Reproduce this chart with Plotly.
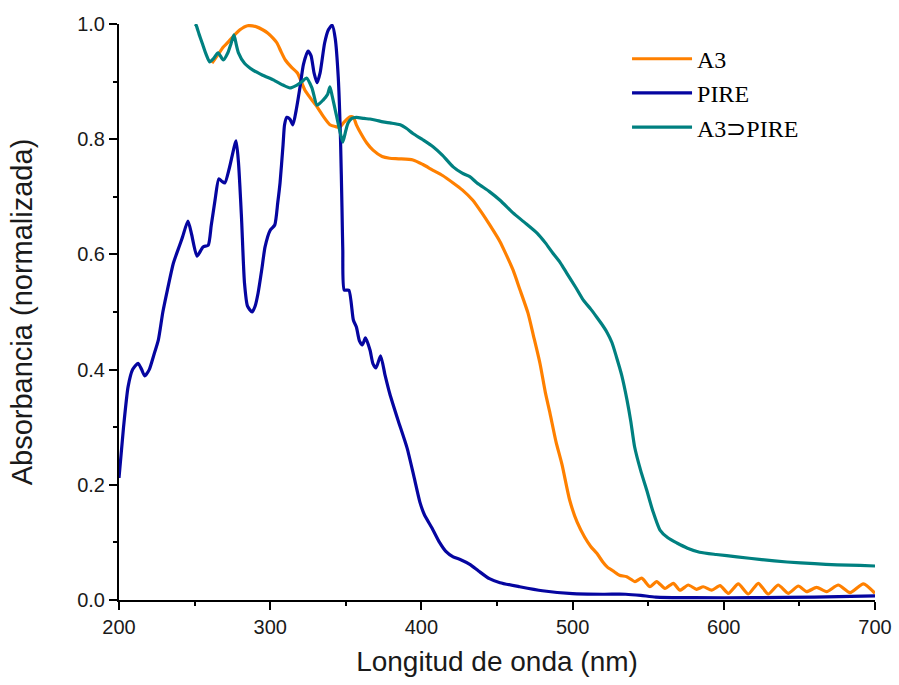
import plotly.graph_objects as go

# --- PIRE ---
pire_nm = [200, 203, 206, 209, 212.6, 215, 217, 220, 223, 226, 229, 232, 236, 240, 242,
           245.6, 248, 251.6, 255.6, 259, 261, 263.5, 266, 268, 270, 273, 277.4, 279, 281,
           283, 285, 288, 290, 292, 294.5, 296.6, 300, 303, 305, 306.5, 308.5, 309.5, 311,
           313, 315, 317.5, 319.7, 322, 325, 327, 329, 331, 333, 336, 338.5, 341, 343, 345,
           346.5, 347.5, 348, 349, 352, 355, 357, 359, 361, 363, 366, 368, 370, 373, 376,
           379, 384.5, 390.5, 395, 399, 402, 407, 412, 416, 421, 426, 432, 438, 445, 452,
           465, 480, 500, 520, 535, 545, 555, 580, 620, 660, 700]
pire_abs = [0.212, 0.30, 0.37, 0.40, 0.411, 0.40, 0.389, 0.40, 0.425, 0.451, 0.50, 0.538,
            0.585, 0.615, 0.630, 0.658, 0.635, 0.597, 0.613, 0.616, 0.65, 0.694, 0.731,
            0.727, 0.724, 0.75, 0.797, 0.76, 0.665, 0.55, 0.51, 0.50, 0.51, 0.533, 0.575,
            0.613, 0.642, 0.651, 0.69, 0.724, 0.790, 0.825, 0.838, 0.835, 0.825, 0.855,
            0.89, 0.93, 0.953, 0.945, 0.915, 0.898, 0.915, 0.967, 0.99, 0.998, 0.975, 0.908,
            0.80, 0.677, 0.608, 0.538, 0.538, 0.486, 0.474, 0.45, 0.443, 0.455, 0.434, 0.41,
            0.403, 0.424, 0.39, 0.359, 0.3125, 0.264, 0.215, 0.17, 0.148, 0.125, 0.10, 0.085,
            0.075, 0.070, 0.062, 0.050, 0.037, 0.030, 0.023, 0.016, 0.011, 0.010, 0.010,
            0.008, 0.005, 0.004, 0.004, 0.005, 0.007]

# --- A3 ---
a3_nm = [261.5, 265, 269, 272, 275, 280, 285, 291, 295, 298.5, 302, 304.5, 307, 310, 314,
         318, 323, 327, 331, 335, 339.5, 343, 346, 349, 352.8, 355, 357, 360, 364, 368, 374,
         379, 385, 394.4, 401, 407.7, 414, 421, 427, 434, 440, 445, 452, 456, 460.6, 465,
         470.5, 474, 478.4, 482, 485, 489, 493, 498, 503, 508, 512, 516, 520, 523, 527, 531,
         535.8, 541.3, 545.7, 551.2, 555.6, 561.1, 566.6, 571, 576.5, 582, 586.4, 592,
         597.5, 603, 609.6, 616.2, 622.8, 629.4, 636, 642.6, 649.3, 654.8, 661.4, 668,
         675.7, 683.5, 692.3, 700]
a3_abs = [0.932, 0.945, 0.96, 0.968, 0.977, 0.99, 0.997, 0.995, 0.99, 0.984, 0.975, 0.967,
          0.953, 0.9375, 0.925, 0.915, 0.885, 0.87, 0.856, 0.84, 0.825, 0.822, 0.821, 0.83,
          0.839, 0.838, 0.825, 0.81, 0.793, 0.781, 0.770, 0.767, 0.766, 0.764, 0.756, 0.746,
          0.737, 0.724, 0.712, 0.694, 0.672, 0.652, 0.622, 0.600, 0.573, 0.54, 0.498, 0.46,
          0.411, 0.36, 0.325, 0.275, 0.235, 0.174, 0.135, 0.109, 0.093, 0.081, 0.066, 0.057,
          0.050, 0.043, 0.0405, 0.032, 0.038, 0.023, 0.032, 0.020, 0.029, 0.017, 0.026,
          0.0185, 0.023, 0.017, 0.025, 0.0116, 0.028, 0.0104, 0.029, 0.0104, 0.026, 0.0116,
          0.0243, 0.0145, 0.022, 0.0145, 0.026, 0.0127, 0.028, 0.0116]

# --- A3⊃PIRE ---
cx_nm = [250.3, 251, 253, 255, 257.5, 260, 262.5, 265.5, 269, 272, 274, 276, 277.5, 279,
         283, 288.6, 295, 302, 308.5, 313, 317.7, 321, 324, 327.6, 331, 335, 338, 339.5, 341,
         343, 346, 348, 350, 351.5, 354, 357, 362, 366, 370, 374.6, 380, 386, 390, 394.4,
         401, 407.7, 414, 421, 427, 432, 436.8, 445, 452, 460.6, 468, 476.5, 482, 487, 492,
         496, 502, 507, 512, 516, 519, 522.7, 526, 529, 532.5, 536, 538.5, 541, 545, 549,
         553, 557.8, 563, 569, 576, 584, 595, 608.7, 625, 641.8, 660, 675, 690, 700]
cx_abs = [1.0, 0.998, 0.982, 0.967, 0.948, 0.934, 0.94, 0.95, 0.9375, 0.95, 0.965, 0.981,
          0.965, 0.95, 0.932, 0.92, 0.911, 0.903, 0.894, 0.889, 0.894, 0.900, 0.906, 0.889,
          0.859, 0.868, 0.878, 0.891, 0.875, 0.851, 0.815, 0.795, 0.815, 0.828, 0.836, 0.838,
          0.836, 0.835, 0.833, 0.830, 0.828, 0.825, 0.819, 0.81, 0.799, 0.787, 0.772, 0.752,
          0.741, 0.735, 0.724, 0.709, 0.694, 0.672, 0.656, 0.637, 0.62, 0.602, 0.585, 0.568,
          0.543, 0.521, 0.505, 0.491, 0.48, 0.465, 0.447, 0.422, 0.39, 0.347, 0.31, 0.266,
          0.225, 0.191, 0.155, 0.1215, 0.108, 0.099, 0.09, 0.083, 0.079, 0.075, 0.07, 0.066,
          0.063, 0.061, 0.060, 0.059]

series = [
    ("A3", a3_nm, a3_abs, "#FF8000"),
    ("PIRE", pire_nm, pire_abs, "#0505A0"),
    ("A3⊃PIRE", cx_nm, cx_abs, "#008080"),
]

fig = go.Figure()
for name, xs, ys, color in series:
    fig.add_trace(go.Scatter(x=xs, y=ys, name=name, mode="lines",
                             line=dict(color=color, width=3.2, shape="spline", smoothing=0.6)))

axis_common = dict(
    showline=True, linecolor="black", linewidth=2, mirror=False,
    ticks="outside", ticklen=8, tickwidth=2, tickcolor="black",
    showgrid=False, zeroline=False, automargin=False,
    tickfont=dict(family="Liberation Sans, Arial, sans-serif", size=20, color="#1a1a1a"),
)

fig.update_xaxes(range=[200, 700], tickvals=[200, 300, 400, 500, 600, 700],
                 minor=dict(dtick=50, ticks="outside", ticklen=4, tickwidth=2, tickcolor="black"),
                 title=dict(text="Longitud de onda (nm)", standoff=14,
                            font=dict(family="Liberation Sans, Arial, sans-serif", size=28, color="#1a1a1a")),
                 **axis_common)
fig.update_yaxes(range=[0, 1.0], tickvals=[0, 0.2, 0.4, 0.6, 0.8, 1.0], tickformat=".1f",
                 minor=dict(dtick=0.1, ticks="outside", ticklen=4, tickwidth=2, tickcolor="black"),
                 title=dict(text="Absorbancia (normalizada)", standoff=36,
                            font=dict(family="Liberation Sans, Arial, sans-serif", size=29, color="#1a1a1a")),
                 **axis_common)

fig.update_layout(
    width=899, height=685,
    margin=dict(l=119, r=24, t=24, b=85),
    plot_bgcolor="white", paper_bgcolor="white",
    legend=dict(x=0.672, y=0.978, xanchor="left", yanchor="top",
                bgcolor="rgba(0,0,0,0)",
                font=dict(family="Liberation Serif, Times New Roman, serif", size=24, color="black"),
                tracegroupgap=0, itemwidth=60),
)

fig.write_html("out.html")
